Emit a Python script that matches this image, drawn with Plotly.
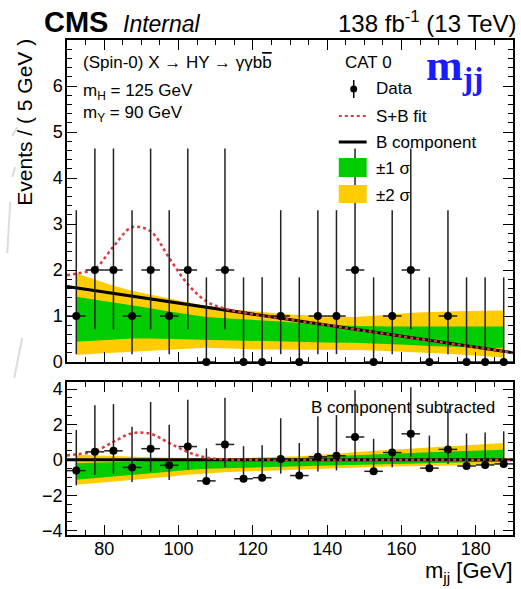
import plotly.graph_objects as go

# ---------------- data ----------------
mjj_bins = [72.5, 77.5, 82.5, 87.5, 92.5, 97.5, 102.5, 107.5, 112.5, 117.5, 122.5, 127.5,
            132.5, 137.5, 142.5, 147.5, 152.5, 157.5, 162.5, 167.5, 172.5, 177.5, 182.5, 187.5]
data_counts = [1, 2, 2, 1, 2, 1, 2, 0, 2, 0, 0, 1, 0, 1, 1, 2, 0, 1, 2, 0, 1, 0, 0, 0]

# fitted curves sampled along m_jj
mjj_curve = [70.0, 72.5, 77.5, 82.5, 87.5, 92.5, 97.5, 102.5, 107.5, 112.5, 117.5, 122.5, 127.5,
             132.5, 137.5, 142.5, 147.5, 152.5, 157.5, 162.5, 167.5, 172.5, 177.5, 182.5, 187.5, 190.0]
bkg_curve = [1.64, 1.61, 1.55, 1.49, 1.43, 1.37, 1.31, 1.25, 1.19, 1.13, 1.07, 1.01, 0.95,
             0.89, 0.83, 0.77, 0.71, 0.65, 0.59, 0.53, 0.47, 0.41, 0.35, 0.29, 0.23, 0.20]
sig_curve = [0.25, 0.31, 0.48, 1.02, 1.50, 1.47, 0.95, 0.44, 0.13, 0.03, 0.0, 0.0, 0.0,
             0.0, 0.0, 0.0, 0.0, 0.0, 0.0, 0.0, 0.0, 0.0, 0.0, 0.0, 0.0, 0.0]

# background uncertainty bands (upper panel), at bin centres
band2_lo = [0.15, 0.18, 0.20, 0.22, 0.25, 0.27, 0.29, 0.31, 0.29, 0.28, 0.27, 0.26,
            0.26, 0.26, 0.26, 0.26, 0.25, 0.24, 0.22, 0.20, 0.18, 0.15, 0.12, 0.10]
band1_lo = [0.44, 0.47, 0.49, 0.51, 0.51, 0.51, 0.50, 0.49, 0.47, 0.46, 0.45, 0.44,
            0.43, 0.43, 0.42, 0.42, 0.41, 0.39, 0.37, 0.35, 0.34, 0.32, 0.31, 0.30]
band1_hi = [1.42, 1.36, 1.30, 1.24, 1.17, 1.10, 1.04, 0.98, 0.95, 0.93, 0.90, 0.88,
            0.85, 0.82, 0.80, 0.78, 0.77, 0.77, 0.77, 0.77, 0.77, 0.77, 0.77, 0.77]
band2_hi = [1.93, 1.79, 1.66, 1.55, 1.46, 1.38, 1.30, 1.22, 1.16, 1.12, 1.08, 1.05,
            1.02, 1.00, 0.99, 0.98, 1.00, 1.03, 1.07, 1.09, 1.10, 1.11, 1.12, 1.12]

# background uncertainty bands (B-subtracted panel)
sub2_lo = [-1.41, -1.32, -1.22, -1.13, -1.05, -0.95, -0.85, -0.76, -0.70, -0.66, -0.63, -0.60,
           -0.56, -0.52, -0.48, -0.44, -0.41, -0.38, -0.36, -0.33, -0.31, -0.30, -0.29, -0.28]
sub1_lo = [-1.13, -1.04, -0.94, -0.86, -0.79, -0.68, -0.57, -0.50, -0.46, -0.44, -0.42, -0.40,
           -0.37, -0.33, -0.29, -0.27, -0.24, -0.22, -0.20, -0.17, -0.15, -0.13, -0.11, -0.09]
sub1_hi = [-0.19, -0.15, -0.10, -0.08, -0.06, -0.06, -0.05, -0.04, -0.02, 0.00, 0.02, 0.05,
           0.09, 0.15, 0.21, 0.26, 0.31, 0.35, 0.39, 0.43, 0.47, 0.50, 0.53, 0.57]
sub2_hi = [0.28, 0.24, 0.19, 0.17, 0.15, 0.12, 0.10, 0.10, 0.10, 0.11, 0.13, 0.16,
           0.20, 0.27, 0.36, 0.44, 0.51, 0.57, 0.63, 0.69, 0.75, 0.82, 0.88, 0.95]

# Poisson (Garwood) 68% intervals per observed count
poisson_err = {0: (0.0, 1.84), 1: (0.83, 2.30), 2: (1.29, 2.64)}
half_bin = [2.5] * len(mjj_bins)

top_ticks = [0, 1, 2, 3, 4, 5, 6]

GREEN = "#00cc00"
YELLOW = "#ffcc00"
RED = "#e0393e"
FONT = "Liberation Sans"

err_lo = [poisson_err[n][0] for n in data_counts]
err_hi = [poisson_err[n][1] for n in data_counts]
bkg_at_bins = bkg_curve[1:-1]
residuals = [n - b for n, b in zip(data_counts, bkg_at_bins)]
splusb = [b + s for b, s in zip(bkg_curve, sig_curve)]
zero_curve = [0.0] * len(mjj_curve)


def band(lo, hi, color, xa, ya):
    return go.Scatter(x=mjj_bins + mjj_bins[::-1], y=hi + lo[::-1], fill="toself",
                      fillcolor=color, line=dict(width=0), mode="lines",
                      hoverinfo="skip", xaxis=xa, yaxis=ya)


def data_trace(yvals, xa, ya):
    return go.Scatter(x=mjj_bins, y=yvals, mode="markers", xaxis=xa, yaxis=ya,
                      marker=dict(color="black", size=8),
                      error_x=dict(type="data", array=half_bin, color="#222", thickness=1.5, width=0),
                      error_y=dict(type="data", symmetric=False, array=err_hi, arrayminus=err_lo,
                                   color="#222", thickness=1.5, width=0),
                      cliponaxis=False)


fig = go.Figure()

# upper panel
fig.add_trace(band(band2_lo, band2_hi, YELLOW, "x", "y"))
fig.add_trace(band(band1_lo, band1_hi, GREEN, "x", "y"))
fig.add_trace(go.Scatter(x=mjj_curve, y=bkg_curve, mode="lines", xaxis="x", yaxis="y",
                         line=dict(color="black", width=3)))
fig.add_trace(go.Scatter(x=mjj_curve, y=splusb, mode="lines", xaxis="x", yaxis="y",
                         line=dict(color=RED, width=2.5, dash="dot", shape="spline")))
fig.add_trace(data_trace(data_counts, "x", "y"))

# lower panel: background subtracted
fig.add_trace(band(sub2_lo, sub2_hi, YELLOW, "x2", "y2"))
fig.add_trace(band(sub1_lo, sub1_hi, GREEN, "x2", "y2"))
fig.add_trace(go.Scatter(x=mjj_curve, y=zero_curve, mode="lines", xaxis="x2", yaxis="y2",
                         line=dict(color="black", width=3)))
fig.add_trace(go.Scatter(x=mjj_curve, y=sig_curve, mode="lines", xaxis="x2", yaxis="y2",
                         line=dict(color=RED, width=2.5, dash="dot", shape="spline")))
fig.add_trace(data_trace(residuals, "x2", "y2"))

# ---------------- layout ----------------
L, R, T, B, W, H = 67, 6, 40, 54, 521, 589
PW, PH = W - L - R, H - T - B


def X(px):
    return (px - L) / PW


def Y(py):
    return (H - B - py) / PH


axis_common = dict(showline=True, linecolor="black", linewidth=1.5, mirror="allticks",
                   ticks="inside", tickcolor="black", tickwidth=1, ticklen=10,
                   showgrid=False, zeroline=False,
                   tickfont=dict(family=FONT, size=18, color="black"))

fig.update_layout(
    width=W, height=H, autosize=False,
    margin=dict(l=L, r=R, t=T, b=B),
    plot_bgcolor="white", paper_bgcolor="white", showlegend=False,
    xaxis=dict(axis_common, domain=[0, 1], anchor="y", range=[70, 190], tick0=0, dtick=20,
               showticklabels=False,
               minor=dict(dtick=5, ticks="inside", ticklen=5, tickcolor="black")),
    xaxis2=dict(axis_common, domain=[0, 1], anchor="y2", range=[70, 190], tick0=0, dtick=20,
                matches="x", ticklabelstandoff=-3,
                minor=dict(dtick=5, ticks="inside", ticklen=5, tickcolor="black")),
    yaxis=dict(axis_common, domain=[Y(362), 1], anchor="x", range=[0, 7],
               tickvals=top_ticks, ticklabelstandoff=-1,
               minor=dict(dtick=0.2, ticks="inside", ticklen=5, tickcolor="black")),
    yaxis2=dict(axis_common, domain=[0, Y(382)], anchor="x2", range=[-4.25, 4.4], dtick=2,
                ticklabelstandoff=-1,
                minor=dict(dtick=0.5, ticks="inside", ticklen=5, tickcolor="black")),
)

ann = []


def text(px, py, s, size, xanchor="left", yanchor="middle", **kw):
    font = dict(family=kw.pop("family", FONT), size=size, color=kw.pop("color", "black"))
    ann.append(dict(x=X(px), y=Y(py), xref="paper", yref="paper", text=s, showarrow=False,
                    xanchor=xanchor, yanchor=yanchor, font=font, **kw))


# header
text(42, 22, "<b>CMS</b>", 29)
text(121, 24, "<i>Internal</i>", 23)
text(521, 22, "138 fb<sup>-1</sup> (13 TeV)", 24, xanchor="right")

# axis titles
text(24, 37, "Events / ( 5 GeV )", 21, xanchor="center", yanchor="top", textangle=-90)
text(517, 572, "m<sub>jj</sub> [GeV]", 22, xanchor="right")

# upper panel labels
text(81, 63, "(Spin-0) X \u2192 HY \u2192 \u03b3\u03b3b"
     "<span style='text-decoration:overline'>b</span>", 17)
text(81, 92, "m<sub>H</sub> = 125 GeV", 17)
text(81, 114, "m<sub>Y</sub> = 90 GeV", 17)
text(344, 63, "CAT 0", 17)
text(426, 68, "<b>m<sub>jj</sub></b>", 44, family="Liberation Serif", color="#1a1aff")

# legend entries
text(375, 89, "Data", 17)
text(375, 116, "S+B fit", 17)
text(375, 142, "B component", 17)
text(375, 168, "\u00b11 \u03c3", 17)
text(375, 195, "\u00b12 \u03c3", 17)

# lower panel label
text(499, 407, "B component subtracted", 17, xanchor="right")

fig.update_layout(annotations=ann)

shapes = []


def pshape(kind, x0, y0, x1, y1, **kw):
    shapes.append(dict(type=kind, xref="paper", yref="paper",
                       x0=X(x0), y0=Y(y0), x1=X(x1), y1=Y(y1), **kw))


# legend symbols
pshape("line", 355, 80, 355, 98, line=dict(color="black", width=1.5))
pshape("circle", 351.5, 85.5, 358.5, 92.5, fillcolor="black", line=dict(color="black", width=0))
pshape("line", 340, 116, 368, 116, line=dict(color=RED, width=2, dash="dot"))
pshape("line", 340, 142, 368, 142, line=dict(color="black", width=3))
pshape("rect", 340, 158, 368, 177, fillcolor=GREEN, line=dict(width=0))
pshape("rect", 340, 185, 368, 203, fillcolor=YELLOW, line=dict(width=0))

# faint pen strokes in the left margin
for x0, y0, x1, y1 in [(17, 127, 12, 136), (15, 167, 12, 177), (10, 202, 7, 253),
                       (22, 338, 14, 378)]:
    pshape("line", x0, y0, x1, y1, line=dict(color="#dcdcdc", width=2))

fig.update_layout(shapes=shapes)

fig.write_html("out.html")
